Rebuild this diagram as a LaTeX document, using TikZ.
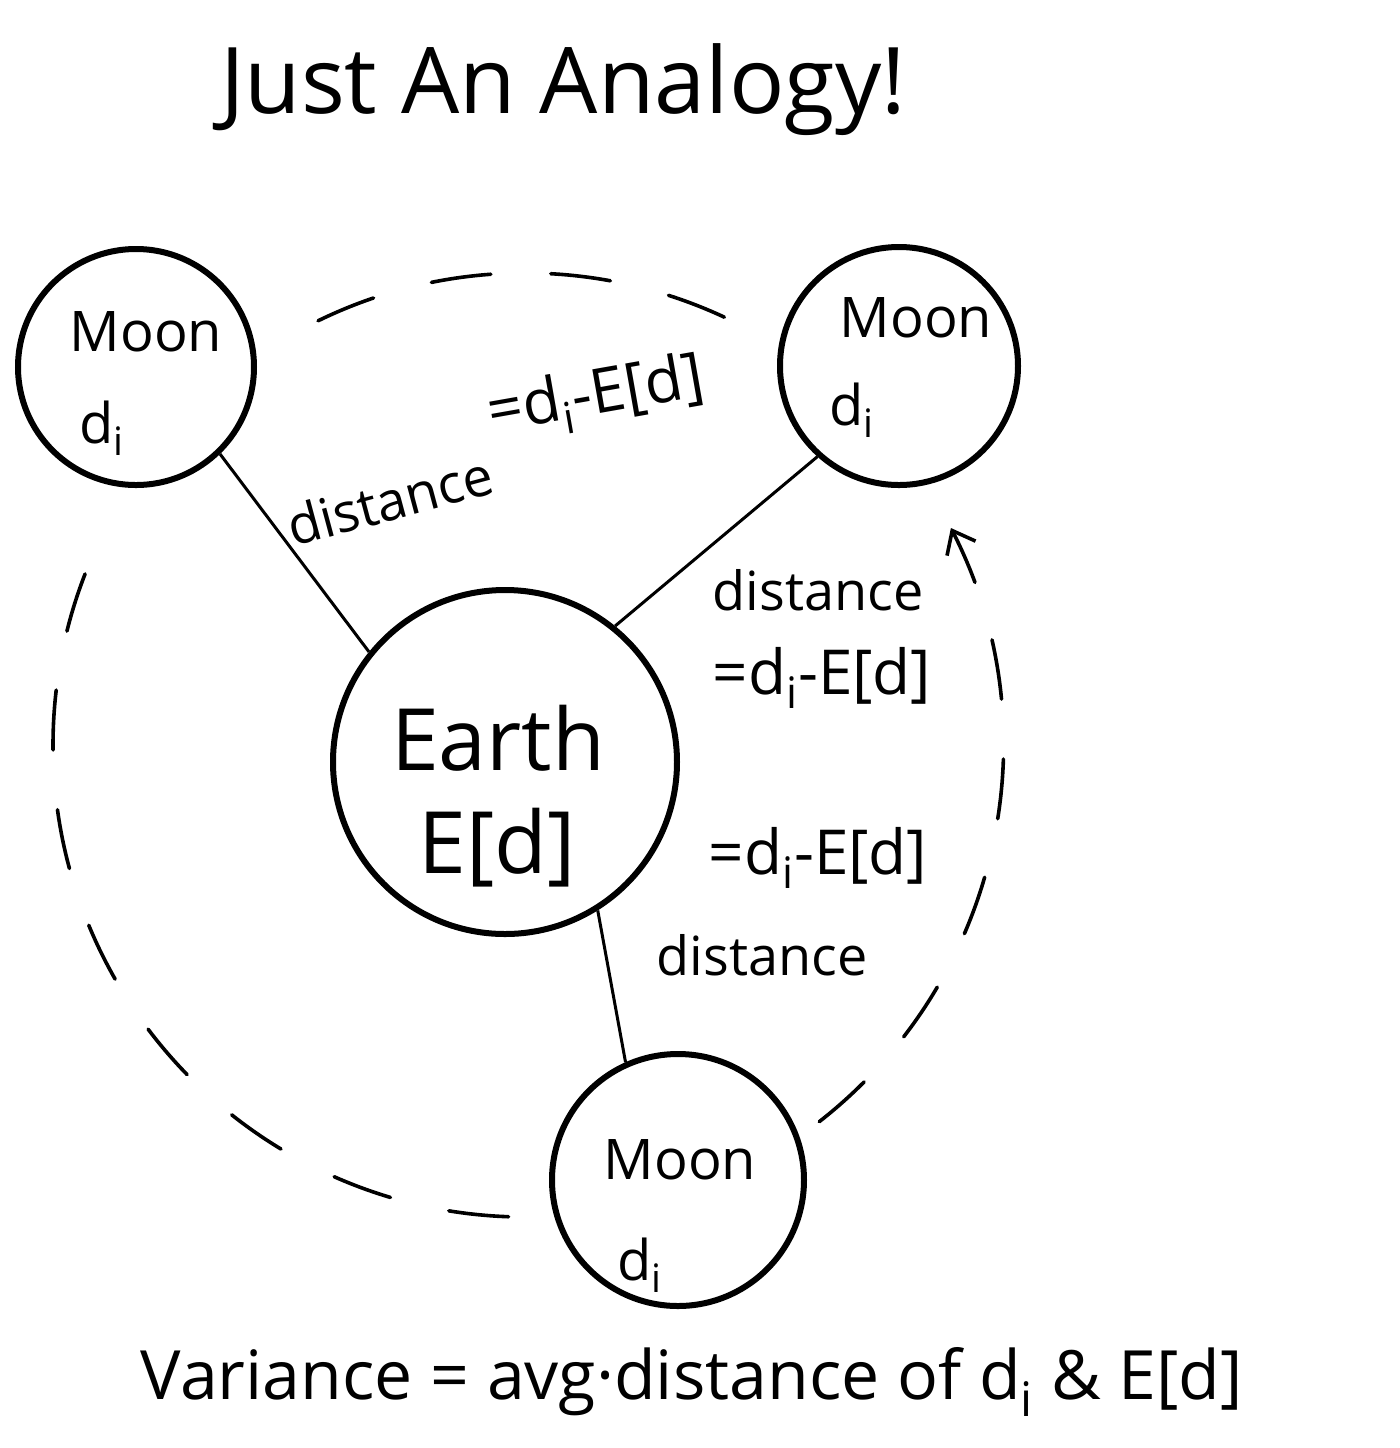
\documentclass[tikz,border=0pt]{standalone}
\usepackage{fontspec}
\setmainfont{Open Sans}
\usetikzlibrary{arrows.meta}
\begin{document}
\begin{tikzpicture}[x=0.5pt,y=-0.5pt,
  body/.style={circle,draw,line width=3pt,inner sep=0pt,fill=white},
  lbl/.style={inner sep=0pt,font=\fontsize{27}{30}\selectfont},
  eqlbl/.style={inner sep=0pt,font=\fontsize{31}{34}\selectfont},
  moontxt/.style={inner sep=0pt,font=\fontsize{28}{32}\selectfont},
  big/.style={inner sep=0pt,font=\fontsize{43}{47}\selectfont},
  conn/.style={line width=1.5pt},
  orbit/.style={line width=1.8pt,dash pattern=on 30pt off 30pt,line cap=round}]
\useasboundingbox[fill=white] (0,0) rectangle (1400,1448);
% orbit
\coordinate (oc) at (525,745);
\draw[orbit] (oc) ++(92:472) arc[start angle=92,end angle=207,radius=472];
\draw[orbit] (oc) ++(244:472) arc[start angle=244,end angle=295,radius=472];
\draw[orbit,-{Straight Barb[length=10pt,width=16pt,line width=1.8pt]}] (oc) ++(52:478) arc[start angle=52,end angle=-27,radius=478];
% bodies
\node[body,minimum size=118pt] (tl) at (136,367) {};
\node[body,minimum size=119pt] (tr) at (899,366) {};
\node[body,minimum size=172pt] (earth) at (505,762) {};
\node[body,minimum size=126pt] (bm) at (678,1180) {};
% texts in bodies
\node[moontxt] (tlm) at (146,332) {Moon};
\node[moontxt] (tld) at (102,428) {d\textsubscript{i}};
\node[moontxt] (trm) at (916,318) {Moon};
\node[moontxt] (trd) at (852,410) {d\textsubscript{i}};
\node[big] (ea) at (498,738) {Earth};
\node[big] (ed) at (497,848) {E[d]};
\node[moontxt] (bmm) at (680,1160) {Moon};
\node[moontxt] (bmd) at (640,1265) {d\textsubscript{i}};
% connectors
\draw[conn] (tl.-46) -- (earth.141);
\draw[conn] (tr.228) -- (earth.51);
\draw[conn] (earth.-58) -- (bm.114);
% connector labels
\node[lbl,rotate=15] (l1a) at (390,500) {distance};
\node[eqlbl,rotate=10] (l1b) at (596,398) {=d\textsubscript{i}-E[d]};
\node[lbl] (l2a) at (818,590) {distance};
\node[eqlbl] (l2b) at (822,678) {=d\textsubscript{i}-E[d]};
\node[eqlbl] (l3a) at (818,858) {=d\textsubscript{i}-E[d]};
\node[lbl] (l3b) at (762,955) {distance};
% title and formula
\node[inner sep=0pt,font=\fontsize{46}{50}\selectfont] (title) at (563,90) {Just An Analogy!};
\node[inner sep=0pt,font=\fontsize{34}{38}\selectfont] (formula) at (692,1382) {Variance = avg·distance of d\textsubscript{i} \& E[d]};
\end{tikzpicture}
\end{document}
